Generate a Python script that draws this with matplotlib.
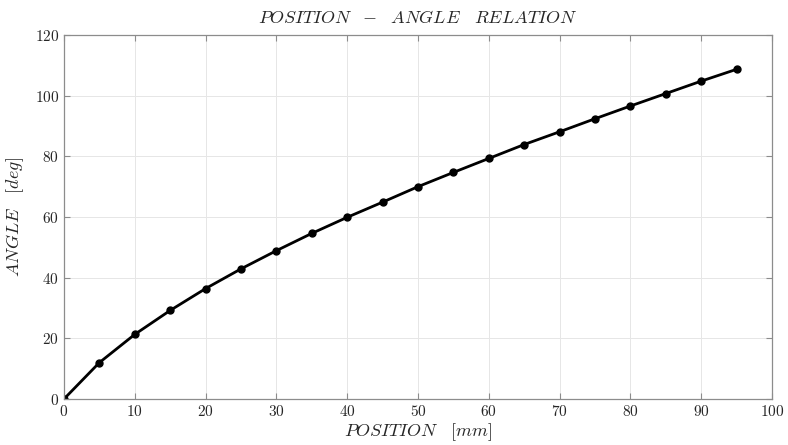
import matplotlib
matplotlib.use("Agg")
import matplotlib.pyplot as plt

plt.rcParams['mathtext.fontset'] = 'cm'
plt.rcParams['font.family'] = 'serif'
plt.rcParams['font.serif'] = ['cmr10', 'DejaVu Serif']
plt.rcParams['axes.formatter.use_mathtext'] = True

position = [0, 5, 10, 15, 20, 25, 30, 35, 40, 45, 50, 55, 60, 65, 70, 75, 80, 85, 90, 95]
angle = [0, 12.0, 21.3, 29.2, 36.4, 42.9, 48.9, 54.6, 59.9, 64.9, 70.0, 74.7,
         79.3, 83.9, 88.1, 92.4, 96.6, 100.7, 104.8, 108.7]

fig = plt.figure(figsize=(7.88, 4.45), dpi=100)
ax = fig.add_axes([0.0812, 0.1034, 0.8985, 0.8179])

ax.plot(position, angle, '-o', color='black', linewidth=2.0, markersize=5)

ax.set_xlim(0, 100)
ax.set_ylim(0, 120)
ax.set_xticks(range(0, 101, 10))
ax.set_yticks(range(0, 121, 20))
ax.grid(True, color='#e6e6e6', linewidth=0.7)
ax.set_axisbelow(True)

# light grey box like matlab
for s in ax.spines.values():
    s.set_color('#8c8c8c')
    s.set_linewidth(0.9)
ax.tick_params(direction='in', top=True, right=True, colors='#8c8c8c',
               labelcolor='#262626', labelsize=11, length=4, width=0.8)

ax.set_title(r'$POSITION\ \ -\ \ ANGLE\ \ \ RELATION$', fontsize=13, color='#262626', pad=9)
ax.set_xlabel(r'$POSITION\ \ \ [mm]$', fontsize=13, color='#262626', labelpad=2)
ax.set_ylabel(r'$ANGLE\ \ \ [deg]$', fontsize=13, color='#262626', labelpad=6)

fig.savefig('out.png', dpi=100)
